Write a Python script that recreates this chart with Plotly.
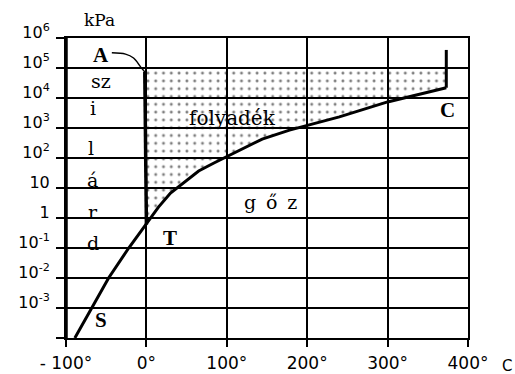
import plotly.graph_objects as go

# --- data (temperature in °C, pressure in kPa) ---
vap_T = [-89, -68, -47, -22, 0.01, 15, 30, 47, 65, 84, 99, 122, 144, 178, 203, 240, 300, 373]
vap_p = [1.0e-4, 1.0e-3, 1.0e-2, 0.1, 0.611, 2.3, 6.8, 16, 37, 68, 107, 214, 427, 850, 1260, 2340, 7400, 22000]

melt_T = [0.01, -1.2, -2.0]
melt_p = [0.611, 100, 7.4e4]

melt_top_T = [-2.0, -7, -16, -26, -43]
melt_top_p = [7.4e4, 1.07e5, 2.15e5, 2.9e5, 3.2e5]

crit_T = [373, 373]
crit_p = [22000, 4.0e5]

liquid_top_p = 1.0e5

x_ticks = [-100, 0, 100, 200, 300, 400]
x_ticktext = ["- 100\u00b0", "0\u00b0", "100\u00b0", "200\u00b0", "300\u00b0", "400\u00b0"]
y_ticks = [1e-4, 1e-3, 1e-2, 1e-1, 1, 10, 1e2, 1e3, 1e4, 1e5, 1e6]
y_ticktext = ["", "10<sup>-3</sup>", "10<sup>-2</sup>", "10<sup>-1</sup>", "1", "10",
              "10<sup>2</sup>", "10<sup>3</sup>", "10<sup>4</sup>", "10<sup>5</sup>", "10<sup>6</sup>"]

# --- liquid region polygon built from curves ---
poly_T = vap_T[4:] + [crit_T[0], melt_T[-1]] + melt_T[::-1]
poly_p = vap_p[4:] + [liquid_top_p, liquid_top_p] + melt_p[::-1]

fig = go.Figure()
fig.add_trace(go.Scatter(
    x=poly_T, y=poly_p, mode="lines", fill="toself",
    line=dict(width=0, color="rgba(0,0,0,0)"),
    fillcolor="rgba(0,0,0,0)",
    fillpattern=dict(shape=".", fgcolor="black", bgcolor="rgba(0,0,0,0)",
                     size=7.8, solidity=0.11),
    hoverinfo="skip", showlegend=False))

fig.add_trace(go.Scatter(x=vap_T, y=vap_p, mode="lines",
                         line=dict(color="black", width=3), showlegend=False))
fig.add_trace(go.Scatter(x=melt_T, y=melt_p, mode="lines",
                         line=dict(color="black", width=3.5), showlegend=False))
fig.add_trace(go.Scatter(x=melt_top_T, y=melt_top_p, mode="lines",
                         line=dict(color="black", width=1.5, shape="spline"), showlegend=False))
fig.add_trace(go.Scatter(x=crit_T, y=crit_p, mode="lines",
                         line=dict(color="black", width=3), showlegend=False))

slab = "DejaVu Serif, serif"
serif = "Liberation Serif, Times New Roman, serif"

def ann(text, x, y, font, size, bold=False):
    t = "<b>%s</b>" % text if bold else text
    fig.add_annotation(x=x, y=y, xref="x", yref="y", text=t, showarrow=False,
                       font=dict(family=font, size=size, color="black"),
                       xanchor="center", yanchor="middle")

ann("A", -57, 5.43, serif, 21, True)
ann("sz", -57, 4.56, slab, 19)
ann("i", -65.9, 3.67, slab, 19)
ann("l", -68.4, 2.33, slab, 19)
ann("á", -67, 1.27, slab, 19)
ann("r", -65.9, 0.2, slab, 19)
ann("d", -67, -0.83, slab, 19)
ann("folyadék", 106.6, 3.33, slab, 20)
ann("g\u00a0\u2009ő\u00a0\u2009z", 154, 0.53, slab, 19)
ann("T", 29, -0.67, serif, 21, True)
ann("C", 374, 3.6, serif, 21, True)
ann("S", -55.9, -3.4, serif, 21, True)

fig.add_annotation(x=-58, y=1.0, xref="x", yref="paper", yshift=18, text="kPa",
                   showarrow=False, xanchor="center", yanchor="middle",
                   font=dict(family=slab, size=17, color="black"))
fig.add_annotation(x=1.0, y=0, xref="paper", yref="paper", xshift=39, yshift=-28,
                   text="C", showarrow=False, xanchor="center", yanchor="middle",
                   font=dict(family="DejaVu Sans", size=15, color="black"))

# thick left border
fig.add_shape(type="line", xref="x", yref="paper", x0=-100, x1=-100, y0=0, y1=1,
              line=dict(color="black", width=3.5))

fig.update_xaxes(range=[-100, 400], tickvals=x_ticks, ticktext=x_ticktext,
                 showgrid=True, gridcolor="black", gridwidth=1.5,
                 showline=True, linecolor="black", linewidth=2, mirror=True,
                 ticks="outside", ticklen=7, tickwidth=1.5, tickcolor="black",
                 ticklabelstandoff=2, automargin=False,
                 tickfont=dict(family="DejaVu Sans", size=17, color="black"),
                 zeroline=False)
fig.update_yaxes(type="log", range=[-4, 6], tickvals=y_ticks, ticktext=y_ticktext,
                 showgrid=True, gridcolor="black", gridwidth=1.5,
                 showline=True, linecolor="black", linewidth=2, mirror=True,
                 ticks="outside", ticklen=8, tickwidth=1.5, tickcolor="black",
                 ticklabelshift=-6, ticklabelstandoff=3, automargin=False,
                 tickfont=dict(family="DejaVu Sans", size=16, color="black"),
                 zeroline=False)

fig.update_layout(width=515, height=374,
                  margin=dict(l=66, r=47, t=38, b=36, autoexpand=False),
                  paper_bgcolor="white", plot_bgcolor="white",
                  showlegend=False)

fig.write_html("out.html", config={"displayModeBar": False},
               post_script="document.body.style.margin='0';")
